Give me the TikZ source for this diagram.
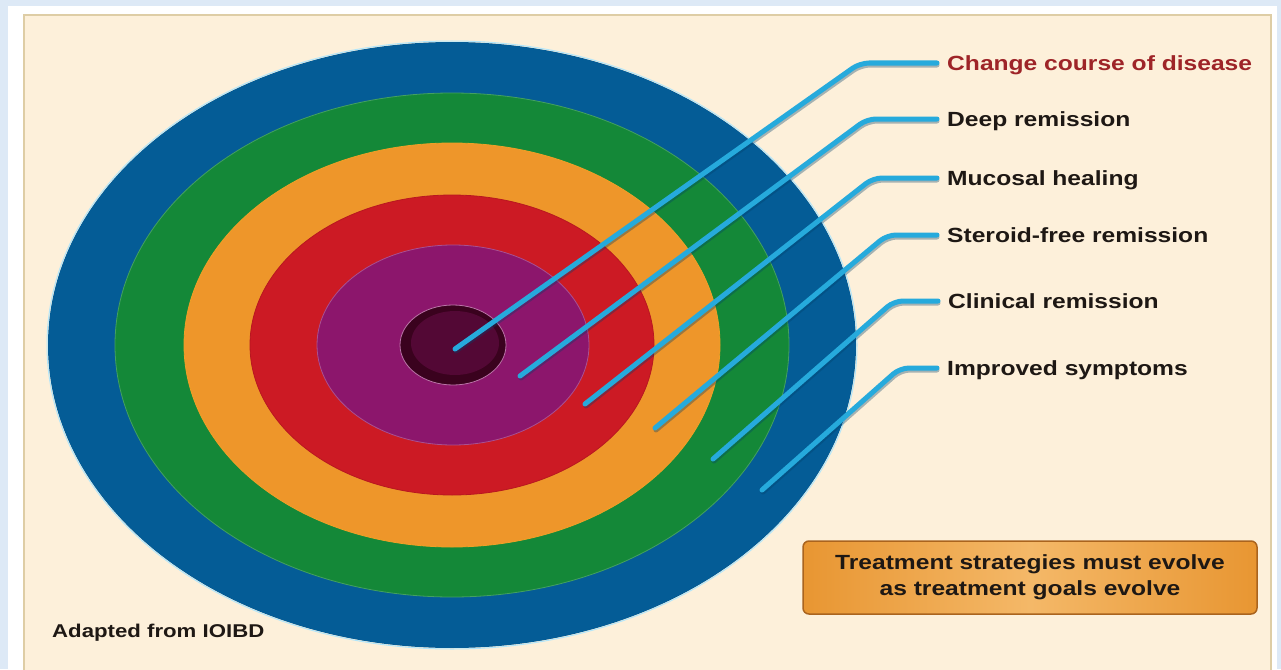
\documentclass[tikz,border=0pt]{standalone}
\usepackage{fontspec}
\setmainfont{Liberation Sans}
\usetikzlibrary{calc}
\definecolor{bgblue}{RGB}{221,233,246}
\definecolor{cream}{RGB}{253,240,218}
\definecolor{panelborder}{RGB}{222,205,165}
\definecolor{ringblue}{RGB}{4,92,150}
\definecolor{ringgreen}{RGB}{20,136,56}
\definecolor{ringorange}{RGB}{238,150,42}
\definecolor{ringred}{RGB}{204,26,36}
\definecolor{ringpurple}{RGB}{140,22,108}
\definecolor{ringdark}{RGB}{58,2,30}
\definecolor{lineblue}{RGB}{38,170,220}
\definecolor{labelred}{RGB}{158,36,40}
\definecolor{textdark}{RGB}{30,24,20}
\definecolor{boxorange}{RGB}{232,150,50}
\definecolor{boxlight}{RGB}{244,184,104}
\definecolor{boxedge}{RGB}{170,100,30}
\begin{document}
\begin{tikzpicture}[x=1pt,y=-1pt,
  conn/.style={draw=lineblue, line width=5pt, rounded corners=9pt, line cap=round},
  connshadow/.style={draw=ringblue!70!black, opacity=0.35, line width=5pt, rounded corners=9pt, line cap=round},
  goal/.style={anchor=west, inner sep=0pt, text height=14.7pt, text depth=0pt,
    font=\fontsize{20.5}{24}\selectfont\bfseries, text=textdark},
  ring/.style={line width=0.8pt}
]
\useasboundingbox (0,0) rectangle (1281,669);
\fill[bgblue] (0,0) rectangle (1281,669);
\fill[white] (8,6) rectangle (1277,680);
\draw[panelborder, fill=cream, line width=1.5pt] (24,15) rectangle (1271,690);

% target disk
\fill[ringblue] (452,345) ellipse [x radius=404pt, y radius=303pt];
\draw[white!70!cyan, line width=1pt] (452,345) ellipse [x radius=405pt, y radius=304pt];
\filldraw[ringgreen, draw=ringgreen!80!white, ring] (452,345) ellipse [x radius=337pt, y radius=252pt];
\filldraw[ringorange, draw=ringorange!90!yellow, ring] (452,345) ellipse [x radius=268pt, y radius=202pt];
\filldraw[ringred, draw=ringred!90!black, ring] (452,345) ellipse [x radius=202pt, y radius=150pt];
\filldraw[ringpurple, draw=ringpurple!75!white, ring] (453,345) ellipse [x radius=136pt, y radius=100pt];
\filldraw[ringdark, draw=ringpurple!60!white, line width=0.8pt] (453,345) ellipse [x radius=53pt, y radius=40pt];
\fill[ringdark!70!ringpurple] (455,343) ellipse [x radius=44pt, y radius=32pt];

% labels
\node[goal, text=labelred] (l1) at (947,63) {\scalebox{1.2}[1]{Change course of disease}};
\node[goal] (l2) at (947,119) {\scalebox{1.2}[1]{Deep remission}};
\node[goal] (l3) at (947,178) {\scalebox{1.2}[1]{Mucosal healing}};
\node[goal] (l4) at (947,235) {\scalebox{1.2}[1]{Steroid-free remission}};
\node[goal] (l5) at (948,301) {\scalebox{1.2}[1]{Clinical remission}};
\node[goal] (l6) at (947,368) {\scalebox{1.2}[1]{Improved symptoms}};

% connector start points
\coordinate (s1) at (455,349);
\coordinate (s2) at (520,376);
\coordinate (s3) at (585,404);
\coordinate (s4) at (655,428);
\coordinate (s5) at (713,459);
\coordinate (s6) at (762,490);

\foreach \i/\b in {1/87,2/80,3/74,4/60,5/54,6/47}{
  \draw[connshadow] ([shift={(1,2)}]s\i) -- ([shift={(1-\b,2)}]l\i.west) -- ([shift={(-10,2)}]l\i.west);
  \draw[conn] (s\i) -- ([xshift=-\b pt]l\i.west) -- ([xshift=-10pt]l\i.west);
}

% message box
\node[draw=boxedge, line width=1.5pt, rounded corners=6pt,
  left color=boxorange, right color=boxorange, middle color=boxlight,
  minimum width=454pt, minimum height=73pt, inner sep=0pt,
  align=center, text=textdark, font=\fontsize{20.5}{26}\selectfont\bfseries]
  (msg) at (1030,577.5) {\scalebox{1.2}[1]{Treatment strategies must evolve}\\\scalebox{1.2}[1]{as treatment goals evolve}};

\node[anchor=west, inner sep=0pt, text=textdark, font=\fontsize{18.5}{22}\selectfont\bfseries,
  text height=13.3pt, text depth=0pt] (src) at (52,631) {\scalebox{1.2}[1]{Adapted from IOIBD}};
\end{tikzpicture}
\end{document}
